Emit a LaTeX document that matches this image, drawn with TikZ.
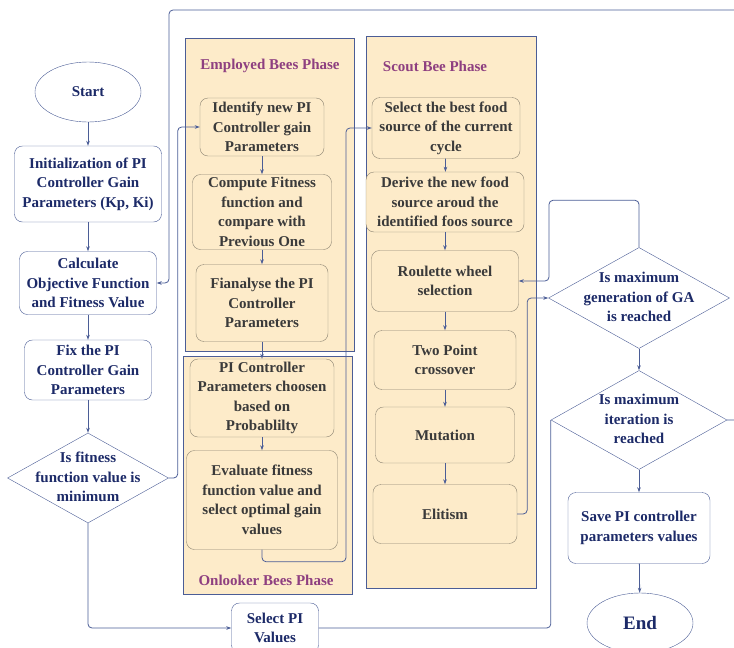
\documentclass[tikz,border=0pt]{standalone}
\usepackage{fontspec}
\setmainfont{Liberation Serif}
\usepackage{tikz}
\usetikzlibrary{arrows.meta,shapes.geometric}

\definecolor{navy}{HTML}{1C2A68}
\definecolor{plum}{HTML}{8E3F80}
\definecolor{ink}{HTML}{3A3A3A}
\definecolor{beige}{HTML}{FDEBC9}
\definecolor{wire}{HTML}{4B5D96}
\definecolor{frame}{HTML}{8C8472}

% text of a diamond, kept out of its size
\newcommand{\dtext}[1]{\smash{\makebox[0pt]{\raisebox{-0.25em}{\begin{tabular}{@{}c@{}}#1\end{tabular}}}}}

\tikzset{
  box/.style={draw=wire, rounded corners=8pt, fill=white, text=navy, align=center, inner sep=2pt},
  inbox/.style={draw=frame, rounded corners=8pt, fill=beige, text=ink, align=center, inner sep=2pt},
  phase/.style={draw=wire, fill=beige},
  title/.style={text=plum},
  choice/.style={draw=wire, diamond, fill=white, text=navy, inner sep=0pt},
  term/.style={draw=wire, ellipse, fill=white, text=navy, inner sep=0pt},
  line/.style={draw=wire, line width=0.8pt, rounded corners=4pt},
}

\begin{document}
\begin{tikzpicture}[x=1pt, y=-1pt, font=\bfseries\fontsize{15}{19.5}\selectfont,
  >={Stealth[length=5pt,width=3.5pt]}]
  \clip (0,0) rectangle (734,648);

  % phases
  \draw[phase] (185,38) rectangle (354,351);
  \draw[phase] (183,356) rectangle (352,594);
  \draw[phase] (366,36) rectangle (536,588);
  \node[title] (t emp) at (270,66) {Employed Bees Phase};
  \node[title] (t sct) at (435,66) {Scout Bee Phase};
  \node[title] (t onl) at (266,580) {Onlooker Bees Phase};

  % main column
  \node[term, minimum width=106, minimum height=60]   (start) at (88,92)
  {Start};
  \node[box, minimum width=147, minimum height=76]    (init) at (88,184)
  {Initialization of PI\\Controller Gain\\Parameters (Kp, Ki)};
  \node[box, minimum width=137, minimum height=63]    (calc) at (88,283)
  {Calculate\\Objective Function\\and Fitness Value};
  \node[box, minimum width=127, minimum height=60]    (fix) at (88,370)
  {Fix the PI\\Controller Gain\\Parameters};
  \node[choice, minimum width=161, minimum height=90] (choice 1) at (88,478)
  {\dtext{Is fitness\\function value is\\minimum}};
  \node[box, minimum width=87, minimum height=50]     (select) at (275,628)
  {Select PI\\Values};

  % employed and onlooker bees
  \node[inbox, minimum width=124, minimum height=58]  (emp 1) at (262,127)
  {Identify new PI\\Controller gain\\Parameters};
  \node[inbox, minimum width=139, minimum height=75]  (emp 2) at (262,212)
  {Compute Fitness\\function and\\compare with\\Previous One};
  \node[inbox, minimum width=132, minimum height=77]  (emp 3) at (262,303)
  {Fianalyse the PI\\Controller\\Parameters};
  \node[inbox, minimum width=144, minimum height=78]  (onl 1) at (262,398)
  {PI Controller\\Parameters choosen\\based on\\Probablilty};
  \node[inbox, minimum width=151, minimum height=99]  (onl 2) at (262,500)
  {Evaluate fitness\\function value and\\select optimal gain\\values};

  % scout bee
  \node[inbox, minimum width=148, minimum height=61]  (sct 1) at (446,128)
  {Select the best food\\source of the current\\cycle};
  \node[inbox, minimum width=158, minimum height=60]  (sct 2) at (445,202)
  {Derive the new food\\source aroud the\\identified foos source};
  \node[inbox, minimum width=147, minimum height=61]  (sct 3) at (445,281)
  {Roulette wheel\\selection};
  \node[inbox, minimum width=142, minimum height=59]  (sct 4) at (445,360)
  {Two Point\\crossover};
  \node[inbox, minimum width=139, minimum height=56]  (sct 5) at (445,435)
  {Mutation};
  \node[inbox, minimum width=144, minimum height=59]  (sct 6) at (445,514)
  {Elitism};

  % right column
  \node[choice, minimum width=181, minimum height=101] (choice 2) at (639,298)
  {\dtext{Is maximum\\generation of GA\\is reached}};
  \node[choice, minimum width=176, minimum height=99]  (choice 3) at (639,420)
  {\dtext{Is maximum\\iteration is\\reached}};
  \node[box, minimum width=142, minimum height=71]     (save) at (639,528)
  {Save PI controller\\parameters values};
  \node[term, minimum width=106, minimum height=60,
        font=\bfseries\fontsize{19}{23}\selectfont]    (stop) at (640,623)
  {End};

  \draw[line,->] (start) -- (init);
  \draw[line,->] (init) -- (calc);
  \draw[line,->] (calc) -- (fix);
  \draw[line,->] (fix) -- (choice 1);
  \draw[line,->] (choice 1.south) |- (select.west);
  \draw[line,->] (choice 1.east) -- ++(9,0) |- (emp 1.west);
  \draw[line,->] (choice 3.east) -- ++(20,0) |- (169,10) |- (calc.east);

  \draw[line,->] (emp 1) -- (emp 2);
  \draw[line,->] (emp 2) -- (emp 3);
  \draw[line,->] (emp 3) -- (onl 1);
  \draw[line,->] (onl 1) -- (onl 2);
  \draw[line,->] (onl 2.south) -- ++(0,12) -| (346,128) -- (sct 1.west);

  \draw[line,->] (sct 1) -- (sct 2);
  \draw[line,->] (sct 2) -- (sct 3);
  \draw[line,->] (sct 3) -- (sct 4);
  \draw[line,->] (sct 4) -- (sct 5);
  \draw[line,->] (sct 5) -- (sct 6);
  \draw[line,->] (sct 6.east) -- ++(10,0) |- (choice 2.west);
  \draw[line,->] (choice 2.north) -- ++(0,-47) -| (549,281) -- (sct 3.east);

  \draw[line,->] (choice 2) -- (choice 3);
  \draw[line,->] (choice 3) -- (save);
  \draw[line,->] (save) -- (stop);
  \draw[line] (select.east) -| (choice 3.west);
\end{tikzpicture}
\end{document}
